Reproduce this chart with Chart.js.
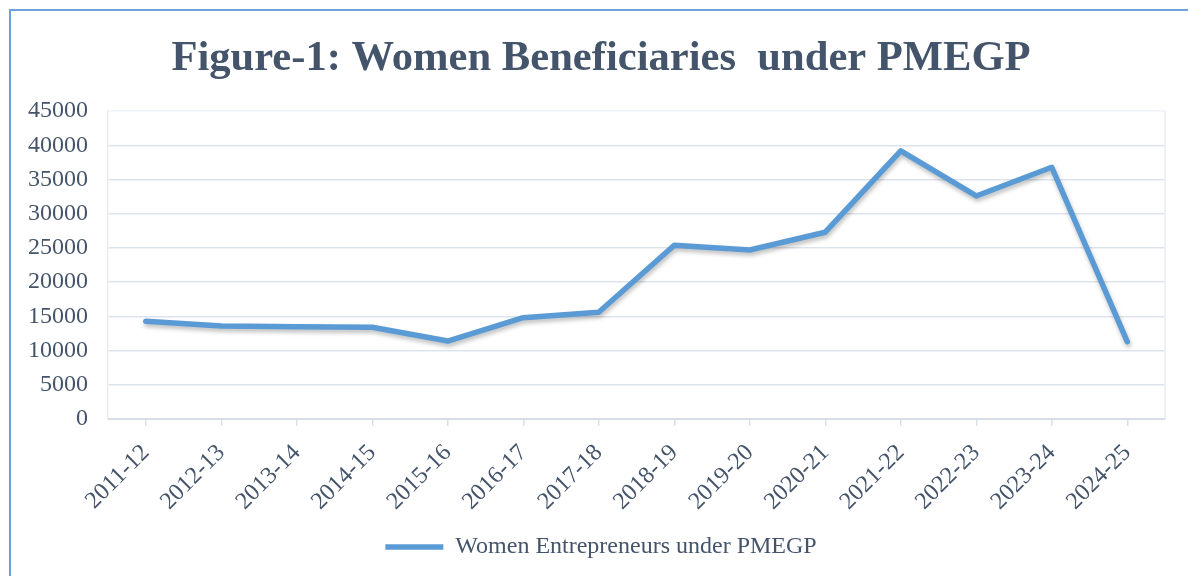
<!DOCTYPE html>
<html>
<head>
<meta charset="utf-8">
<script src="https://cdn.jsdelivr.net/npm/chart.js@4"></script>
<style>
  html, body { margin: 0; padding: 0; background: #fff; overflow: hidden; }
  #wrap { position: relative; width: 1188px; height: 576px; }
  #frame {
    position: absolute; left: 9px; top: 9px; width: 1300px; height: 700px;
    border-left: 2px solid #6aa3db; border-top: 2px solid #6aa3db;
  }
  canvas { position: absolute; left: 0; top: 0; }
</style>
</head>
<body>
<div id="wrap">
  <div id="frame"></div>
  <canvas id="chart" width="1188" height="576"></canvas>
</div>
<script>
// data
const years = ['2011-12', '2012-13', '2013-14', '2014-15', '2015-16', '2016-17', '2017-18',
  '2018-19', '2019-20', '2020-21', '2021-22', '2022-23', '2023-24', '2024-25'];
const womenBeneficiaries = [14300, 13600, 13500, 13400, 11400, 14800, 15600,
  25400, 24700, 27300, 39200, 32600, 36800, 11300];
const yTicks = [0, 5000, 10000, 15000, 20000, 25000, 30000, 35000, 40000, 45000];

const textColor = '#44546a';
const serif = "'Liberation Serif', 'Times New Roman', serif";

// soft shadow under the line, like the Office chart
const lineShadow = {
  id: 'lineShadow',
  beforeDatasetsDraw(chart) {
    const ctx = chart.ctx;
    ctx.save();
    ctx.shadowColor = 'rgba(0,0,0,0.25)';
    ctx.shadowBlur = 4;
    ctx.shadowOffsetX = 1;
    ctx.shadowOffsetY = 3;
  },
  afterDatasetsDraw(chart) {
    chart.ctx.restore();
  }
};

// faint plot area border (right side)
const plotBorder = {
  id: 'plotBorder',
  beforeDatasetsDraw(chart) {
    const { ctx, chartArea: a } = chart;
    ctx.save();
    ctx.strokeStyle = '#e6ecf5';
    ctx.lineWidth = 1.5;
    ctx.beginPath();
    ctx.moveTo(a.right, a.top);
    ctx.lineTo(a.right, a.bottom);
    ctx.stroke();
    ctx.restore();
  }
};

// title and legend sit a bit right of the canvas centre in the original
const shiftCentre = {
  id: 'shiftCentre',
  afterLayout(chart) {
    if (chart.titleBlock) chart.titleBlock.left += 37;
    if (chart.legend) chart.legend.left += 37;
  }
};

const ctx = document.getElementById('chart').getContext('2d');
new Chart(ctx, {
  type: 'line',
  data: {
    labels: years,
    datasets: [{
      label: 'Women Entrepreneurs under PMEGP',
      data: womenBeneficiaries,
      borderColor: '#5b9bd5',
      backgroundColor: '#5b9bd5',
      borderWidth: 5.5,
      borderCapStyle: 'round',
      borderJoinStyle: 'round',
      pointRadius: 0,
      pointHoverRadius: 0,
      pointStyle: 'line',
      tension: 0,
      fill: false
    }]
  },
  options: {
    responsive: false,
    animation: false,
    layout: { padding: { top: 10, right: 23, bottom: 7, left: 0 } },
    plugins: {
      title: {
        display: true,
        text: 'Figure-1: Women Beneficiaries  under PMEGP',
        color: textColor,
        font: { family: serif, size: 42.6, weight: 'bold' },
        padding: { top: 23, bottom: 27 }
      },
      legend: {
        position: 'bottom',
        labels: {
          color: textColor,
          font: { family: serif, size: 24 },
          usePointStyle: true,
          pointStyleWidth: 58,
          boxWidth: 58,
          boxHeight: 6,
          padding: 9
        }
      },
      tooltip: { enabled: false }
    },
    scales: {
      x: {
        offset: true,
        grid: {
          drawOnChartArea: false,
          drawTicks: true,
          tickLength: 7,
          color: '#d9e0ea',
          lineWidth: 1.5
        },
        border: { color: '#d6dde8', width: 2 },
        ticks: {
          color: textColor,
          font: { family: serif, size: 24 },
          minRotation: 45,
          maxRotation: 45,
          autoSkip: false,
          padding: 13
        },
        afterFit(axis) { axis.height = 107; }
      },
      y: {
        min: 0,
        max: 45000,
        afterBuildTicks(axis) { axis.ticks = yTicks.map(v => ({ value: v })); },
        grid: {
          drawTicks: false,
          color: c => c.tick && c.tick.value === 45000 ? '#eef2f8' : '#dde3ec',
          lineWidth: 1.5
        },
        border: { color: '#e8eef6', width: 1.5 },
        ticks: {
          color: textColor,
          font: { family: serif, size: 24 },
          padding: 20,
          callback: v => String(v)
        },
        afterFit(axis) { axis.width = 108; }
      }
    }
  },
  plugins: [plotBorder, lineShadow, shiftCentre]
});
</script>
</body>
</html>
